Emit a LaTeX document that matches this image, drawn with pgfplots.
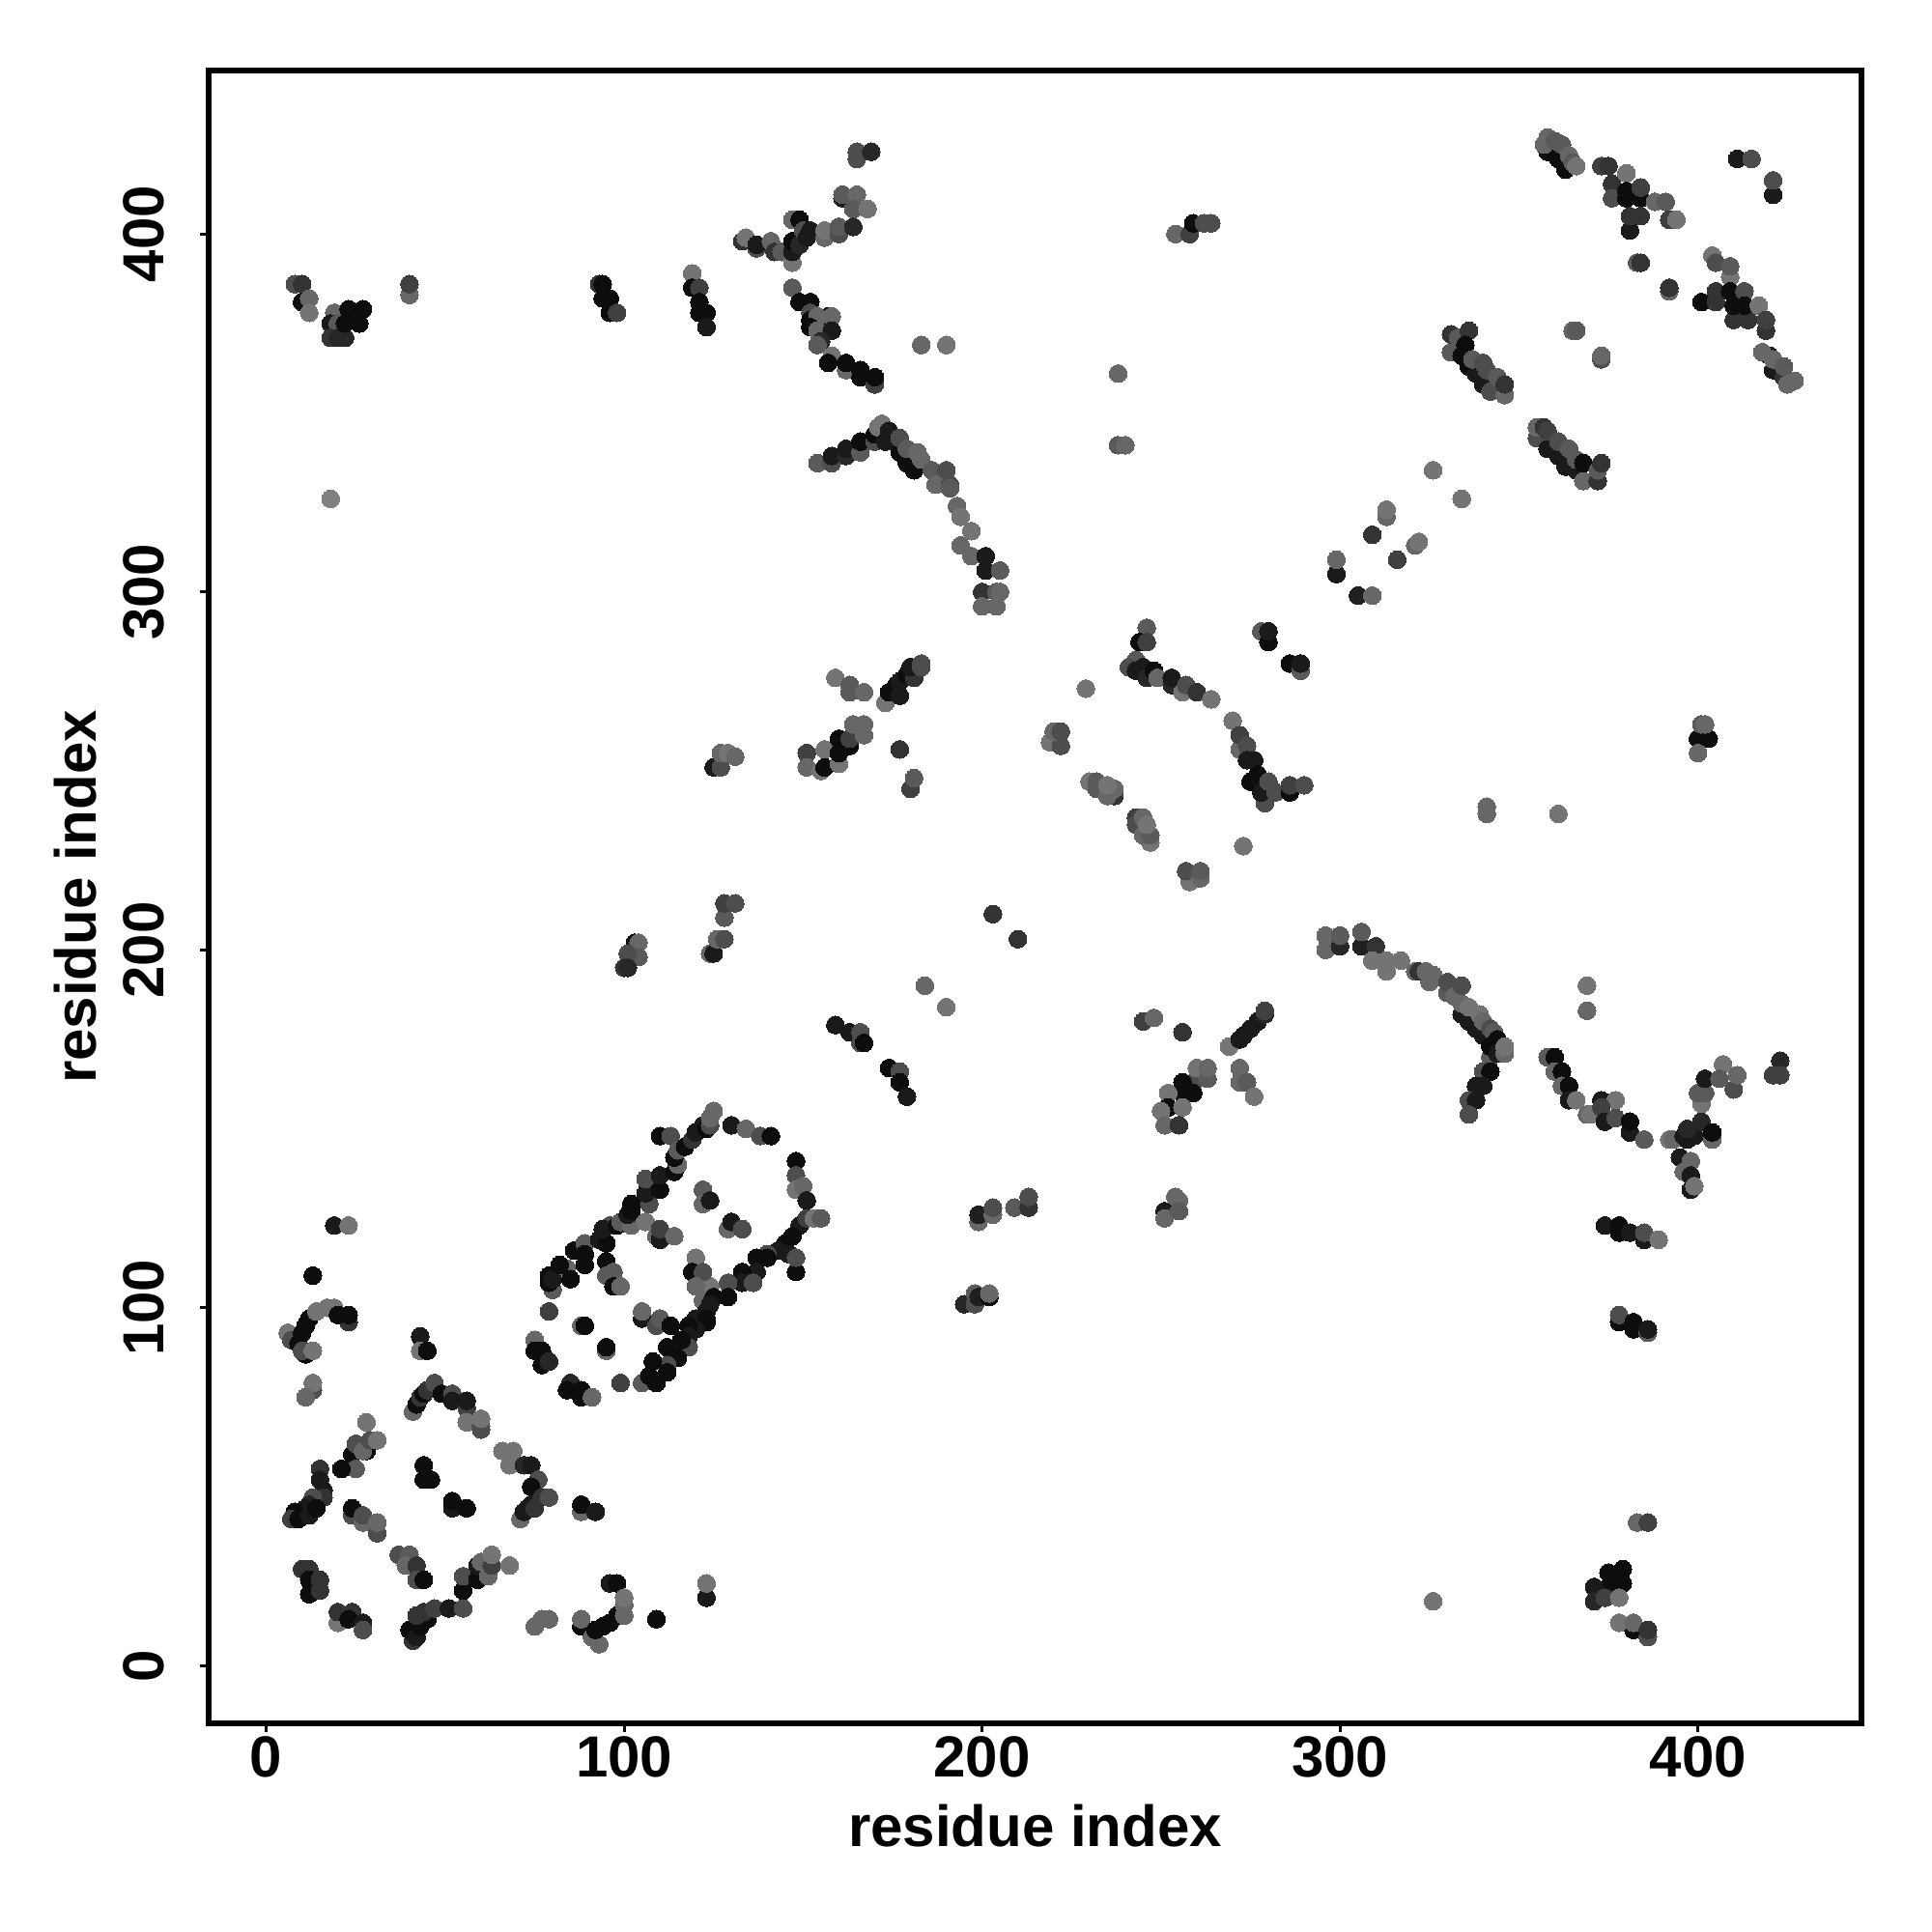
\documentclass[border=0pt]{standalone}
\usepackage{fontspec}
\setmainfont{Liberation Sans}
\usepackage{pgfplots}
\usepackage{pgfplotstable}
\pgfplotsset{compat=1.18}
\pgfplotstableread[row sep=\\]{
x y c\\
19 123 .1\\ 23 123 .45\\ 13 109 .05\\ 6 93 .45\\ 7 91 .3\\ 9 90 .05\\ 10 93 .05\\ 11 95 .05\\ 12 97 .05\\ 14 99 .45\\ 17 100 .45\\ 19 100 .45\\ 23 96 .2\\ 20 98 .05\\ 23 98 .05\\ 11 87 .05\\ 10 88 .3\\ 13 88 .45\\
43 92 .1\\ 43 88 .45\\ 45 88 .05\\ 13 77 .3\\ 13 79 .45\\ 11 75 .4\\
41 71 .4\\ 42 73 .05\\ 43 75 .2\\ 44 76 .05\\ 45 77 .2\\ 47 79 .3\\ 49 76 .05\\ 52 76 .3\\ 52 74 .1\\ 56 72 .25\\ 56 74 .1\\ 56 68 .45\\ 60 66 .3\\ 60 67 .3\\ 60 69 .45\\
28 68 .45\\ 24 59 .05\\ 28 60 .05\\ 25 62 .3\\ 27 60 .4\\ 29 63 .3\\ 31 63 .45\\ 25 55 .35\\ 21 55 .05\\ 15 55 .2\\ 15 52 .1\\ 16 49 .1\\ 16 47 .2\\ 13 47 .3\\ 12 45 .15\\ 11 44 .1\\ 9 43 .1\\ 8 43 .05\\ 7 41 .25\\ 9 41 .05\\ 12 42 .1\\ 14 44 .05\\
44 56 .05\\ 44 52 .05\\ 46 52 .05\\ 52 44 .1\\ 52 46 .05\\ 56 44 .05\\
66 60 .45\\ 69 60 .45\\ 68 56 .45\\ 72 56 .15\\ 74 56 .1\\ 76 52 .3\\ 74 50 .05\\ 71 41 .4\\ 72 43 .1\\ 73 44 .1\\ 74 45 .1\\ 75 44 .2\\ 77 47 .2\\ 79 47 .3\\ 88 43 .4\\ 88 45 .05\\ 92 43 .1\\
24 42 .3\\ 24 44 .05\\ 27 40 .4\\ 27 42 .3\\ 31 37 .3\\ 31 40 .4\\ 37 31 .3\\ 40 31 .35\\ 39 28 .4\\ 42 28 .2\\ 42 24 .3\\ 44 24 .05\\
10 27 .2\\ 12 27 .2\\ 12 24 .05\\ 15 24 .2\\ 12 20 .05\\ 15 21 .2\\
20 12 .45\\ 20 15 .2\\ 24 15 .2\\ 23 13 .05\\ 27 12 .1\\ 27 10 .3\\
41 7 .2\\ 40 10 .05\\ 42 8 .1\\ 43 11 .05\\ 45 13 .05\\ 42 14 .2\\ 44 15 .2\\ 47 16 .25\\ 51 16 .1\\ 55 16 .3\\
55 21 .05\\ 55 25 .3\\ 59 24 .05\\ 59 28 .1\\ 60 29 .4\\ 62 25 .4\\ 63 28 .25\\ 63 31 .45\\ 68 28 .45\\
75 11 .4\\ 77 13 .4\\ 79 13 .4\\ 88 11 .05\\ 88 13 .4\\ 91 8 .4\\ 93 6 .4\\ 92 10 .05\\ 94 11 .05\\ 96 12 .05\\ 98 14 .05\\ 96 23 .1\\ 98 23 .05\\ 100 14 .4\\ 100 17 .4\\ 100 19 .45\\ 109 13 .05\\ 123 19 .1\\ 123 23 .45\\
75 91 .4\\ 75 88 .05\\ 77 88 .05\\ 77 84 .05\\ 79 85 .15\\ 79 99 .25\\ 88 95 .4\\ 89 95 .05\\ 95 88 .4\\ 95 89 .05\\ 99 79 .25\\ 85 79 .15\\ 84 77 .05\\ 88 75 .05\\ 88 77 .05\\ 91 75 .4\\
80 105 .35\\ 79 107 .05\\ 79 109 .05\\ 80 108 .1\\ 84 111 .4\\ 82 112 .05\\ 85 108 .05\\ 89 112 .05\\ 86 116 .05\\ 89 118 .35\\ 89 115 .05\\ 93 119 .1\\ 95 118 .05\\ 96 123 .3\\ 94 122 .1\\ 98 123 .05\\ 99 124 .35\\ 102 123 .4\\ 101 126 .1\\ 102 127 .05\\ 102 129 .05\\ 107 129 .3\\ 106 132 .1\\ 106 136 .3\\ 110 133 .05\\ 110 137 .1\\ 114 138 .05\\ 115 140 .4\\ 114 142 .05\\
110 148 .05\\ 113 148 .3\\ 115 144 .35\\ 117 145 .05\\ 119 147 .2\\ 120 149 .1\\ 122 151 .1\\ 123 150 .05\\ 124 151 .3\\ 124 153 .4\\ 125 155 .4\\ 130 151 .1\\ 134 150 .4\\ 138 148 .3\\ 141 148 .05\\
148 141 .05\\ 148 137 .3\\ 148 133 .45\\ 150 134 .4\\ 151 130 .1\\ 149 123 .1\\ 151 125 .25\\ 153 125 .45\\ 155 125 .35\\ 147 120 .05\\ 145 118 .05\\ 148 110 .05\\ 146 115 .1\\ 148 114 .3\\ 143 116 .1\\ 140 115 .3\\ 140 114 .05\\ 137 114 .05\\ 137 110 .1\\ 133 110 .05\\ 133 107 .1\\ 136 107 .3\\ 129 107 .3\\ 129 103 .05\\ 124 106 .45\\ 122 102 .4\\ 125 103 .05\\ 123 99 .1\\ 124 101 .1\\
120 114 .45\\ 119 110 .05\\ 122 110 .3\\ 120 106 .4\\ 122 133 .35\\ 122 129 .4\\ 124 130 .1\\ 129 122 .4\\ 130 124 .1\\ 133 122 .3\\
95 113 .05\\ 95 109 .35\\ 97 110 .35\\ 97 106 .05\\ 99 106 .4\\ 106 124 .45\\ 109 120 .4\\ 110 119 .1\\ 110 122 .25\\ 114 120 .1\\ 114 120 .4\\
105 97 .1\\ 105 99 .4\\ 109 95 .3\\ 110 97 .35\\ 113 95 .05\\
120 97 .1\\ 123 96 .05\\ 123 97 .05\\ 120 94 .1\\ 118 95 .05\\ 118 92 .1\\ 118 89 .3\\ 116 91 .05\\ 115 86 .05\\ 112 89 .05\\ 112 84 .3\\ 112 82 .05\\ 108 85 .05\\ 105 79 .35\\ 107 81 .05\\ 109 79 .05\\
383 40 .4\\ 386 40 .25\\ 375 26 .05\\ 379 27 .05\\ 379 23 .05\\ 375 22 .05\\ 371 22 .1\\ 371 18 .15\\ 374 19 .25\\ 378 19 .45\\ 382 10 .05\\ 378 12 .45\\ 382 12 .4\\ 386 8 .3\\ 386 10 .2\\ 326 18 .45\\
199 124 .4\\ 199 126 .12\\ 203 126 .4\\ 203 128 .3\\ 209 128 .35\\ 213 128 .2\\ 213 131 .3\\ 251 125 .1\\ 251 127 .1\\ 251 125 .4\\ 254 131 .4\\ 255 130 .4\\ 255 127 .35\\
195 101 .15\\ 198 101 .3\\ 198 104 .35\\ 199 103 .12\\ 202 103 .05\\ 202 104 .4\\
103 202 .05\\ 104 202 .4\\ 104 198 .35\\ 101 199 .3\\ 100 195 .2\\ 101 195 .15\\
128 209 .35\\ 128 213 .25\\ 131 213 .3\\ 124 199 .4\\ 125 199 .1\\ 126 203 .4\\ 128 203 .3\\
341 238 .4\\ 341 240 .4\\ 361 238 .45\\
125 251 .1\\ 127 251 .3\\ 127 255 .4\\ 129 255 .45\\ 131 254 .4\\
159 276 .45\\ 163 272 .35\\ 163 274 .35\\ 167 272 .4\\
173 269 .45\\ 174 272 .05\\ 176 274 .05\\ 177 271 .1\\ 177 275 .1\\ 179 277 .05\\ 181 276 .2\\ 180 279 .1\\ 183 279 .3\\ 183 280 .3\\
151 255 .25\\ 151 251 .4\\ 155 250 .45\\ 156 256 .45\\ 156 251 .05\\ 160 252 .45\\ 160 255 .05\\ 160 259 .05\\ 163 257 .05\\ 163 259 .25\\ 164 263 .4\\ 167 260 .4\\ 167 263 .4\\
177 256 .2\\ 180 245 .25\\ 181 248 .35\\ 229 273 .45\\ 219 258 .45\\ 222 257 .3\\ 220 261 .4\\ 222 261 .3\\
230 247 .45\\ 232 245 .35\\ 232 247 .35\\ 237 243 .2\\ 235 243 .4\\ 237 245 .4\\ 235 246 .45\\
243 237 .25\\ 243 235 .3\\ 245 237 .4\\ 247 230 .45\\ 245 232 .4\\ 247 232 .35\\ 246 235 .45\\
258 219 .45\\ 257 222 .3\\ 261 220 .4\\ 261 222 .35\\ 273 229 .45\\
246 290 .35\\ 244 286 .05\\ 246 286 .25\\ 243 281 .35\\ 241 279 .3\\ 243 278 .1\\ 245 279 .1\\ 246 276 .15\\ 248 278 .05\\ 249 276 .4\\ 253 274 .15\\ 253 276 .1\\ 256 272 .45\\ 257 274 .3\\ 260 272 .2\\ 264 270 .45\\
270 264 .45\\ 272 256 .4\\ 272 260 .25\\ 274 257 .3\\ 274 253 .1\\ 276 253 .1\\ 275 247 .05\\ 277 249 .05\\ 279 241 .3\\ 278 244 .1\\ 280 247 .3\\ 282 244 .3\\ 286 244 .05\\ 286 246 .25\\ 290 246 .3\\
278 289 .35\\ 280 286 .05\\ 280 289 .1\\ 286 280 .05\\ 289 278 .35\\ 289 280 .1\\
203 210 .2\\ 210 203 .2\\ 184 190 .4\\ 190 184 .45\\ 159 179 .1\\ 163 177 .1\\ 166 177 .3\\ 166 174 .3\\ 167 174 .05\\ 174 167 .05\\ 177 166 .3\\ 177 163 .05\\ 179 159 .1\\ 245 180 .25\\ 248 181 .4\\ 256 177 .2\\
269 173 .45\\ 272 175 .1\\ 273 176 .1\\ 275 178 .1\\ 277 180 .1\\ 279 182 .15\\ 279 183 .25\\ 272 167 .4\\ 272 163 .4\\ 274 163 .35\\ 276 159 .45\\
259 163 .3\\ 260 167 .45\\ 263 164 .35\\ 263 167 .4\\ 256 163 .05\\ 259 160 .05\\ 256 160 .05\\ 252 160 .45\\ 252 156 .05\\ 250 155 .45\\ 256 156 .45\\ 251 151 .4\\ 255 151 .2\\
296 204 .4\\ 296 200 .4\\ 300 201 .15\\ 300 204 .35\\ 306 201 .12\\ 306 205 .35\\ 310 201 .2\\ 309 197 .45\\ 313 197 .45\\ 313 194 .45\\ 317 197 .45\\
321 194 .4\\ 322 194 .2\\ 324 194 .4\\ 325 191 .4\\ 326 193 .4\\ 330 188 .35\\ 330 191 .3\\ 334 182 .1\\ 336 180 .1\\ 338 178 .1\\ 340 176 .1\\ 332 187 .4\\ 334 185 .4\\ 334 190 .3\\ 336 184 .45\\ 339 182 .45\\ 340 180 .4\\ 342 178 .3\\ 343 177 .35\\ 344 175 .05\\ 342 170 .35\\ 342 173 .05\\ 344 171 .1\\ 346 171 .4\\ 346 173 .45\\
340 166 .3\\ 342 166 .05\\ 338 162 .1\\ 340 162 .1\\ 336 158 .3\\ 338 158 .1\\ 336 154 .3\\
358 170 .35\\ 360 170 .05\\ 360 166 .4\\ 362 166 .05\\ 362 162 .4\\ 364 162 .05\\ 364 158 .1\\ 366 158 .45\\ 369 190 .45\\ 369 183 .4\\
369 154 .4\\ 370 154 .45\\ 373 158 .1\\ 377 158 .45\\ 373 156 .25\\ 374 152 .1\\ 377 153 .3\\ 381 149 .1\\ 381 152 .05\\ 385 147 .35\\
392 147 .45\\ 393 147 .4\\ 395 142 .1\\ 398 141 .4\\ 396 138 .4\\ 398 137 .1\\ 398 133 .1\\ 399 134 .45\\ 396 148 .1\\ 397 147 .1\\ 399 148 .1\\ 397 150 .15\\ 401 152 .15\\ 404 147 .4\\ 404 149 .05\\ 401 157 .45\\ 400 160 .35\\ 402 160 .35\\ 402 164 .1\\ 407 168 .45\\ 406 164 .35\\ 410 161 .3\\ 411 165 .4\\ 423 169 .15\\ 421 165 .25\\ 423 165 .25\\
374 123 .1\\ 378 121 .05\\ 378 123 .05\\ 381 121 .1\\ 385 119 .1\\ 385 121 .3\\ 389 119 .45\\ 378 96 .05\\ 378 98 .3\\ 382 94 .05\\ 382 96 .05\\ 386 93 .35\\ 386 94 .1\\
358 423 .05\\ 361 421 .05\\ 363 418 .05\\ 357 425 .4\\ 358 427 .4\\ 360 426 .35\\ 362 425 .35\\ 364 422 .4\\ 365 420 .35\\ 366 419 .45\\
373 419 .25\\ 375 419 .2\\ 376 414 .2\\ 376 410 .3\\ 380 417 .45\\ 380 412 .05\\ 380 410 .05\\ 384 410 .05\\ 384 413 .25\\ 388 409 .4\\ 391 409 .35\\ 381 401 .1\\ 381 405 .2\\ 384 405 .2\\ 392 404 .25\\ 394 404 .45\\
411 421 .1\\ 415 421 .3\\ 421 411 .1\\ 421 415 .3\\ 383 392 .35\\ 384 392 .2\\ 392 384 .4\\ 392 385 .2\\
404 394 .45\\ 405 392 .3\\ 409 388 .45\\ 409 391 .35\\ 401 381 .05\\ 405 384 .2\\ 405 381 .2\\ 410 376 .2\\ 414 376 .2\\ 409 384 .05\\ 410 380 .05\\ 413 384 .3\\ 413 380 .05\\ 417 380 .45\\ 419 373 .2\\ 419 376 .25\\
420 366 .1\\ 421 362 .1\\ 424 360 .2\\ 418 367 .4\\ 421 365 .4\\ 424 363 .35\\ 425 358 .4\\ 427 359 .4\\
331 367 .35\\ 331 372 .2\\ 333 371 .35\\ 336 373 .2\\ 335 369 .05\\ 334 366 .05\\ 336 363 .05\\ 338 361 .1\\ 340 358 .1\\ 337 365 .35\\ 340 364 .3\\ 341 362 .3\\ 342 356 .3\\ 344 360 .35\\ 346 355 .4\\ 346 358 .2\\
355 343 .3\\ 355 346 .4\\ 358 340 .1\\ 361 338 .1\\ 363 335 .1\\ 366 334 .1\\ 357 346 .2\\ 358 345 .25\\ 361 342 .3\\ 364 340 .35\\ 366 337 .35\\ 368 331 .4\\ 368 336 .05\\ 372 331 .2\\ 372 334 .35\\ 373 336 .2\\
365 373 .4\\ 366 373 .35\\ 373 365 .3\\ 373 366 .4\\ 326 334 .45\\ 334 326 .45\\ 313 321 .4\\ 313 323 .45\\ 309 316 .2\\ 316 309 .25\\ 321 313 .4\\ 322 314 .45\\ 299 305 .1\\ 299 309 .4\\ 305 299 .12\\ 309 299 .4\\
8 386 .3\\ 10 386 .2\\ 10 381 .05\\ 12 382 .4\\ 12 378 .45\\ 19 378 .4\\ 18 375 .1\\ 20 375 .35\\ 18 371 .2\\ 20 371 .15\\ 22 371 .15\\ 23 379 .05\\ 27 379 .05\\ 22 375 .05\\ 26 375 .05\\ 40 383 .4\\ 40 386 .25\\
93 386 .2\\ 94 386 .05\\ 94 382 .05\\ 96 382 .05\\ 96 378 .05\\ 98 378 .25\\ 119 389 .45\\ 119 385 .05\\ 121 385 .25\\ 121 381 .05\\ 121 378 .05\\ 123 378 .05\\ 123 374 .1\\ 18 326 .5\\
165 421 .3\\ 165 423 .3\\ 169 423 .15\\ 161 410 .1\\ 161 411 .35\\ 165 411 .4\\ 164 407 .35\\ 168 407 .45\\
133 398 .2\\ 134 399 .45\\ 137 396 .3\\ 137 397 .1\\ 141 398 .4\\ 142 395 .2\\ 144 395 .35\\ 147 392 .45\\ 147 395 .1\\ 147 404 .4\\ 149 404 .05\\ 147 398 .05\\ 149 397 .15\\ 150 401 .3\\ 151 399 .1\\ 152 401 .1\\ 156 399 .4\\ 156 401 .45\\ 160 400 .3\\ 160 402 .35\\ 164 402 .15\\
147 385 .35\\ 149 381 .05\\ 152 381 .05\\ 152 378 .3\\ 152 376 .05\\ 157 377 .05\\ 154 377 .4\\ 158 377 .4\\ 152 374 .05\\ 154 373 .4\\ 158 373 .1\\ 155 370 .15\\ 154 369 .35\\ 183 369 .4\\ 190 369 .45\\
158 366 .45\\ 157 364 .05\\ 162 362 .4\\ 162 364 .05\\ 166 360 .05\\ 166 362 .05\\ 170 358 .25\\ 170 360 .05\\
154 336 .35\\ 158 336 .3\\ 158 338 .1\\ 162 338 .15\\ 162 340 .1\\ 166 339 .35\\ 166 342 .05\\ 170 342 .3\\ 170 344 .05\\ 171 346 .45\\ 172 347 .45\\ 174 345 .1\\ 173 342 .1\\ 177 339 .05\\ 179 336 .05\\ 181 334 .05\\ 177 343 .3\\ 179 340 .35\\ 182 339 .4\\ 183 337 .4\\ 186 334 .35\\ 190 334 .3\\ 187 330 .4\\ 191 330 .3\\ 191 329 .35\\ 193 324 .4\\ 194 321 .45\\ 194 313 .4\\ 197 317 .45\\ 197 310 .4\\ 201 310 .1\\ 201 306 .1\\ 205 306 .35\\ 200 300 .2\\ 204 300 .35\\ 205 300 .4\\ 200 296 .4\\ 204 296 .4\\
254 400 .4\\ 258 400 .25\\ 259 403 .05\\ 262 403 .3\\ 264 403 .3\\ 238 361 .4\\ 238 341 .35\\ 240 341 .4\\
400 259 .05\\ 403 259 .05\\ 400 255 .4\\ 401 263 .35\\ 402 263 .4\\
}\contacts
\begin{document}
\begin{tikzpicture}[x=1pt,y=1pt]
\path[use as bounding box] (0,0) rectangle (500,500);
\begin{axis}[
  at={(54pt,54pt)}, anchor=south west,
  scale only axis, width=427.75pt, height=427.75pt,
  xmin=-16.1, xmax=445.7, ymin=-16.1, ymax=445.7,
  axis line style={line width=1.5pt},
  xtick={0,100,200,300,400}, ytick={0,100,200,300,400},
  xtick pos=bottom, ytick pos=left,
  tick align=outside, major tick length=2.25pt,
  tick style={line width=.7pt, black},
  /pgf/number format/assume math mode=true,
  /pgf/number format/1000 sep={},
  tick label style={font=\bfseries\fontsize{15}{15}\selectfont, inner sep=0pt},
  xticklabel style={anchor=north},
  xticklabel shift=1pt,
  yticklabel style={rotate=90, anchor=south},
  yticklabel shift=9pt,
  label style={font=\bfseries\fontsize{15}{15}\selectfont, inner sep=0pt},
  xlabel={residue index},
  ylabel={residue index},
  xlabel style={at={(axis description cs:0.5,0)}, anchor=base, yshift=-31.75pt},
  ylabel style={at={(axis description cs:0,0.5)}, anchor=base, yshift=29.1pt},
  colormap={bw}{gray(0cm)=(0); gray(1cm)=(1)},
  point meta min=0, point meta max=1,
]
\addplot[scatter, only marks, mark=*, mark size=2.3pt,
  point meta=explicit,
  scatter/use mapped color={draw=mapped color, fill=mapped color, line width=0pt}]
  table[x=x, y=y, meta=c] {\contacts};
\end{axis}
\end{tikzpicture}
\end{document}
